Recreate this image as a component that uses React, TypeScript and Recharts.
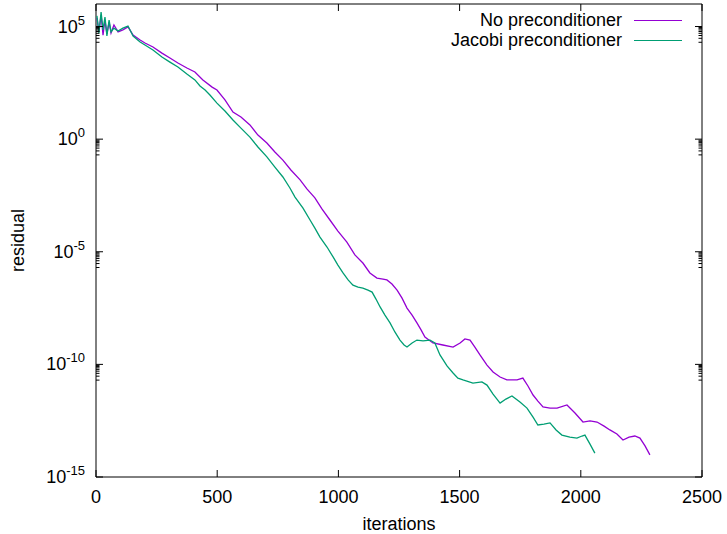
import { LineChart, Line, XAxis, YAxis, Legend, Label, ReferenceArea } from 'recharts';

// iterations / log10(residual)
const noPrecIter = [
  4, 12, 21, 29, 37, 45, 54, 62, 74, 91, 111, 132, 153, 182, 202, 235, 272, 305, 338, 375,
  408, 441, 479, 499, 532, 565, 598, 635, 668, 705, 738, 771, 804, 842, 870, 903, 932, 965, 998, 1035,
  1068, 1101, 1130, 1159, 1184, 1200, 1221, 1242, 1262, 1283, 1304, 1324, 1341, 1357, 1390, 1431, 1473, 1502, 1522, 1543,
  1563, 1584, 1613, 1638, 1667, 1695, 1737, 1761, 1782, 1803, 1823, 1844, 1873, 1902, 1943, 1976, 2009, 2038, 2067, 2096,
  2120, 2149, 2174, 2199, 2223, 2244, 2265, 2285,
];
const noPrecLog10 = [
  5.38, 4.76, 5.51, 4.62, 5.29, 4.67, 5.2, 4.71, 5.07, 4.76, 4.85, 4.98, 4.62, 4.4, 4.27, 4.09, 3.82, 3.6, 3.38, 3.16,
  2.98, 2.63, 2.31, 2.18, 1.74, 1.2, 0.98, 0.63, 0.18, -0.17, -0.57, -0.93, -1.37, -1.81, -2.21, -2.61, -3.1, -3.59, -4.08, -4.57,
  -5.14, -5.5, -5.94, -6.17, -6.21, -6.25, -6.43, -6.7, -7.05, -7.5, -7.81, -8.16, -8.47, -8.79, -9.05, -9.14, -9.23, -9.05, -8.87, -8.92,
  -9.23, -9.58, -10.03, -10.34, -10.56, -10.69, -10.69, -10.61, -10.96, -11.36, -11.63, -11.89, -11.94, -11.94, -11.8, -12.16, -12.56, -12.51, -12.56, -12.74,
  -12.91, -13.09, -13.36, -13.23, -13.18, -13.27, -13.62, -14.02,
];

const jacobiIter = [
  4, 12, 21, 29, 37, 45, 54, 62, 74, 91, 111, 132, 153, 182, 202, 235, 272, 305, 338, 375,
  408, 429, 450, 470, 499, 532, 565, 598, 635, 668, 705, 738, 771, 800, 821, 854, 883, 903, 924, 953,
  978, 998, 1019, 1040, 1060, 1081, 1101, 1122, 1139, 1155, 1172, 1192, 1213, 1233, 1254, 1271, 1283, 1304, 1324, 1349,
  1378, 1398, 1419, 1448, 1473, 1493, 1514, 1555, 1592, 1613, 1638, 1667, 1691, 1716, 1749, 1778, 1803, 1823, 1848, 1873,
  1898, 1922, 1955, 1984, 2005, 2017, 2038, 2058,
];
const jacobiLog10 = [
  5.47, 4.71, 5.64, 4.85, 5.42, 4.58, 5.29, 4.76, 4.93, 4.8, 4.93, 5.02, 4.58, 4.31, 4.18, 3.96, 3.65, 3.42, 3.2, 2.89,
  2.63, 2.36, 2.18, 1.96, 1.6, 1.25, 0.85, 0.49, 0.09, -0.35, -0.79, -1.24, -1.68, -2.17, -2.57, -3.06, -3.59, -3.95, -4.35, -4.79,
  -5.23, -5.59, -5.94, -6.25, -6.48, -6.57, -6.61, -6.7, -6.79, -7.1, -7.45, -7.81, -8.16, -8.56, -8.92, -9.14, -9.23, -9.05, -8.92, -8.96,
  -8.92, -9.05, -9.58, -10.07, -10.38, -10.61, -10.69, -10.83, -10.78, -10.92, -11.32, -11.72, -11.54, -11.4, -11.67, -11.94, -12.34, -12.69, -12.65, -12.6,
  -12.91, -13.14, -13.23, -13.27, -13.18, -13.14, -13.54, -13.94,
];

const seriesNames = ['No preconditioner', 'Jacobi preconditioner'];
const xTicks = [0, 500, 1000, 1500, 2000, 2500];
const yExponents = [5, 0, -5, -10, -15];

const PURPLE = '#9400d3';
const GREEN = '#009e73';
const FONT = '"Liberation Sans", Arial, Helvetica, sans-serif';

// layout
const W = 727;
const H = 534;
const MARGIN = { top: 4, right: 25, bottom: 27, left: 8 };
const Y_AXIS_W = 88;
const X_AXIS_H = 30;
const PLOT_LEFT = MARGIN.left + Y_AXIS_W;
const PLOT_RIGHT = W - MARGIN.right;
const PLOT_TOP = MARGIN.top;
const PLOT_BOTTOM = H - MARGIN.bottom - X_AXIS_H;
const MAJOR = 7;
const MINOR = 3.5;

const toRows = (iters: number[], logs: number[]) =>
  iters.map((it, i) => ({ iteration: it, residual: Math.pow(10, logs[i]) }));

const noPrecData = toRows(noPrecIter, noPrecLog10);
const jacobiData = toRows(jacobiIter, jacobiLog10);

const yMajorTicks = yExponents.map((e) => Math.pow(10, e));
const yMinorTicks = yExponents
  .filter((e) => e > -15)
  .flatMap((e) => [2, 3, 4, 5, 6, 7, 8, 9].map((k) => k * Math.pow(10, e - 1)));
const yAllTicks = [...yMajorTicks, ...yMinorTicks].sort((a, b) => a - b);

const Y_DOMAIN: [number, number] = [1e-15, 1e6];
const X_DOMAIN: [number, number] = [0, 2500];

// gnuplot style: inward ticks on both sides, label only on major ones
function YTick(props: any) {
  const { x, y, payload } = props;
  const lg = Math.log10(payload.value);
  const exp = Math.round(lg);
  const isMajor = Math.abs(lg - exp) < 1e-6 && yExponents.includes(exp);
  const len = isMajor ? MAJOR : MINOR;
  return (
    <g>
      <line x1={PLOT_LEFT} x2={PLOT_LEFT + len} y1={y} y2={y} stroke="#000" />
      <line x1={PLOT_RIGHT - len} x2={PLOT_RIGHT} y1={y} y2={y} stroke="#000" />
      {isMajor && (
        <text x={x} y={y} dy={6} textAnchor="end" fontSize={18} fill="#000" fontFamily={FONT}>
          10
          <tspan dy={-8} fontSize={13}>
            {exp}
          </tspan>
        </text>
      )}
    </g>
  );
}

function XTick(props: any) {
  const { x, y, payload } = props;
  return (
    <g>
      <line x1={x} x2={x} y1={PLOT_BOTTOM - MAJOR} y2={PLOT_BOTTOM} stroke="#000" />
      <line x1={x} x2={x} y1={PLOT_TOP} y2={PLOT_TOP + MAJOR} stroke="#000" />
      <text x={x} y={y} dy="0.71em" textAnchor="middle" fontSize={18} fill="#000" fontFamily={FONT}>
        {payload.value}
      </text>
    </g>
  );
}

function LegendBox(props: any) {
  const items = [...(props.payload || [])]
    .filter((p: any) => seriesNames.includes(p.value))
    .sort((a: any, b: any) => seriesNames.indexOf(a.value) - seriesNames.indexOf(b.value));
  return (
    <div style={{ fontFamily: FONT, fontSize: 18, lineHeight: '20px', color: '#000' }}>
      {items.map((item: any) => (
        <div
          key={item.value}
          style={{ display: 'flex', justifyContent: 'flex-end', alignItems: 'center', height: 20 }}
        >
          <span>{item.value}</span>
          <span
            style={{
              display: 'inline-block',
              width: 48,
              marginLeft: 12,
              borderTop: `1.5px solid ${item.color}`,
            }}
          />
        </div>
      ))}
    </div>
  );
}

function ResidualLabel(props: any) {
  const vb = props.viewBox;
  const cx = vb.x + 10;
  const cy = vb.y + vb.height / 2;
  return (
    <text
      x={cx}
      y={cy}
      dy="0.35em"
      transform={`rotate(-90 ${cx} ${cy})`}
      textAnchor="middle"
      fontSize={18}
      fill="#000"
      fontFamily={FONT}
    >
      residual
    </text>
  );
}

export default function App() {
  return (
    <div style={{ position: 'absolute', left: 0, top: 0, background: '#fff' }}>
      <LineChart width={W} height={H} margin={MARGIN}>
        <XAxis
          type="number"
          dataKey="iteration"
          domain={X_DOMAIN}
          ticks={xTicks}
          interval={0}
          allowDataOverflow
          height={X_AXIS_H}
          axisLine={false}
          tickLine={false}
          tickMargin={7}
          tick={<XTick />}
        >
          <Label
            value="iterations"
            position="bottom"
            offset={10}
            style={{ fontSize: 18, fill: '#000', fontFamily: FONT }}
          />
        </XAxis>
        <YAxis
          scale="log"
          type="number"
          domain={Y_DOMAIN}
          ticks={yAllTicks}
          interval={0}
          allowDataOverflow
          width={Y_AXIS_W}
          axisLine={false}
          tickLine={false}
          tickMargin={5}
          tick={<YTick />}
        >
          <Label content={<ResidualLabel />} />
        </YAxis>
        <ReferenceArea
          x1={X_DOMAIN[0]}
          x2={X_DOMAIN[1]}
          y1={Y_DOMAIN[0]}
          y2={Y_DOMAIN[1]}
          fill="none"
          fillOpacity={0}
          stroke="#000"
          strokeWidth={1}
        />
        <Legend
          layout="vertical"
          align="center"
          verticalAlign="middle"
          wrapperStyle={{ top: 10, left: 0, width: 682, height: 40 }}
          content={<LegendBox />}
        />
        <Line
          data={noPrecData}
          dataKey="residual"
          name={seriesNames[0]}
          type="linear"
          stroke={PURPLE}
          strokeWidth={1.3}
          dot={false}
          isAnimationActive={false}
        />
        <Line
          data={jacobiData}
          dataKey="residual"
          name={seriesNames[1]}
          type="linear"
          stroke={GREEN}
          strokeWidth={1.3}
          dot={false}
          isAnimationActive={false}
        />
      </LineChart>
    </div>
  );
}
